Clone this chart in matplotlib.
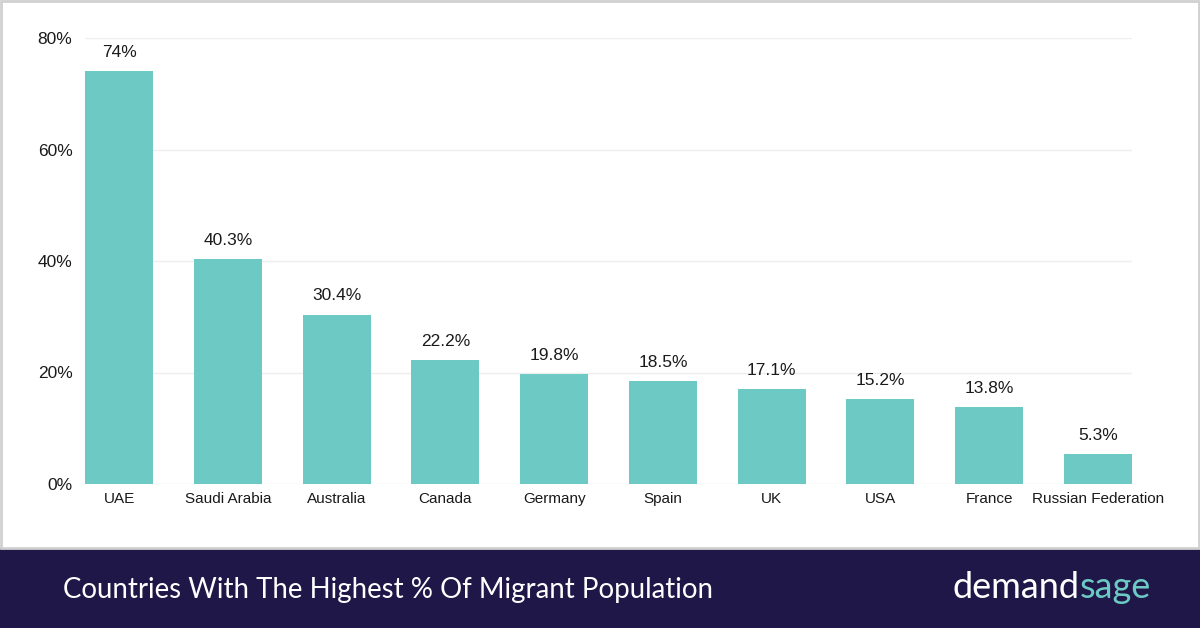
import matplotlib.pyplot as plt
from matplotlib.patches import Rectangle

countries = ['UAE', 'Saudi Arabia', 'Australia', 'Canada', 'Germany', 'Spain',
             'UK', 'USA', 'France', 'Russian Federation']
migrant_pct = [74, 40.3, 30.4, 22.2, 19.8, 18.5, 17.1, 15.2, 13.8, 5.3]
value_labels = ['74%', '40.3%', '30.4%', '22.2%', '19.8%', '18.5%', '17.1%', '15.2%', '13.8%', '5.3%']
y_ticks = [0, 20, 40, 60, 80]

bar_color = '#6cc9c4'
navy = '#1f1747'

fig = plt.figure(figsize=(12, 6.28), dpi=100)
fig.patch.set_facecolor('white')

# footer band + border
fig.patches.append(Rectangle((0, 0), 1, 80 / 628, transform=fig.transFigure,
                             facecolor=navy, edgecolor='none', zorder=0))
fig.patches.append(Rectangle((0.001, 80 / 628), 0.998, 1 - 80 / 628 - 0.002,
                             transform=fig.transFigure, facecolor='none',
                             edgecolor='#d0d0d0', linewidth=2, zorder=1))

ax = fig.add_axes([85 / 1200, 144 / 628, 1047 / 1200, 446 / 628])
w = 0.626
x = range(len(countries))
bars = ax.bar(x, migrant_pct, width=w, color=bar_color, zorder=2)
for b, lab in zip(bars, value_labels):
    ax.annotate(lab, (b.get_x() + b.get_width() / 2, b.get_height()),
                xytext=(0, 8), textcoords='offset points', ha='center', va='bottom',
                fontsize=12.5, color='#1a1a1a', family='Liberation Sans')

ax.set_xlim(-w / 2, len(countries) - 1 + w / 2)
ax.set_ylim(0, 80)
ax.set_yticks(y_ticks)
ax.set_yticklabels([f'{t}%' for t in y_ticks])
ax.set_xticks(list(x))
ax.set_xticklabels(countries)
ax.yaxis.grid(True, color='#eeeeee', linewidth=1, zorder=0)
ax.set_axisbelow(True)
for s in ax.spines.values():
    s.set_visible(False)
ax.tick_params(axis='both', length=0, labelsize=11, labelcolor='#1a1a1a')
ax.tick_params(axis='y', pad=9, labelsize=12.5)
ax.tick_params(axis='x', pad=6)
for t in ax.get_xticklabels() + ax.get_yticklabels():
    t.set_family('Liberation Sans')

fig.text(63 / 1200, 38 / 628, 'Countries With The Highest % Of Migrant Population',
         color='white', fontsize=19.9, va='center', ha='left', family='Lato')
logo1 = fig.text(953 / 1200, 41 / 628, 'demand', color='white', fontsize=26,
                 va='center', ha='left', family='Lato')
fig.canvas.draw()
bb = logo1.get_window_extent()
fig.text(bb.x1 / 1200, 41 / 628, 'sage', color=bar_color, fontsize=26,
         va='center', ha='left', family='Lato')

fig.savefig('out.png', dpi=100)
